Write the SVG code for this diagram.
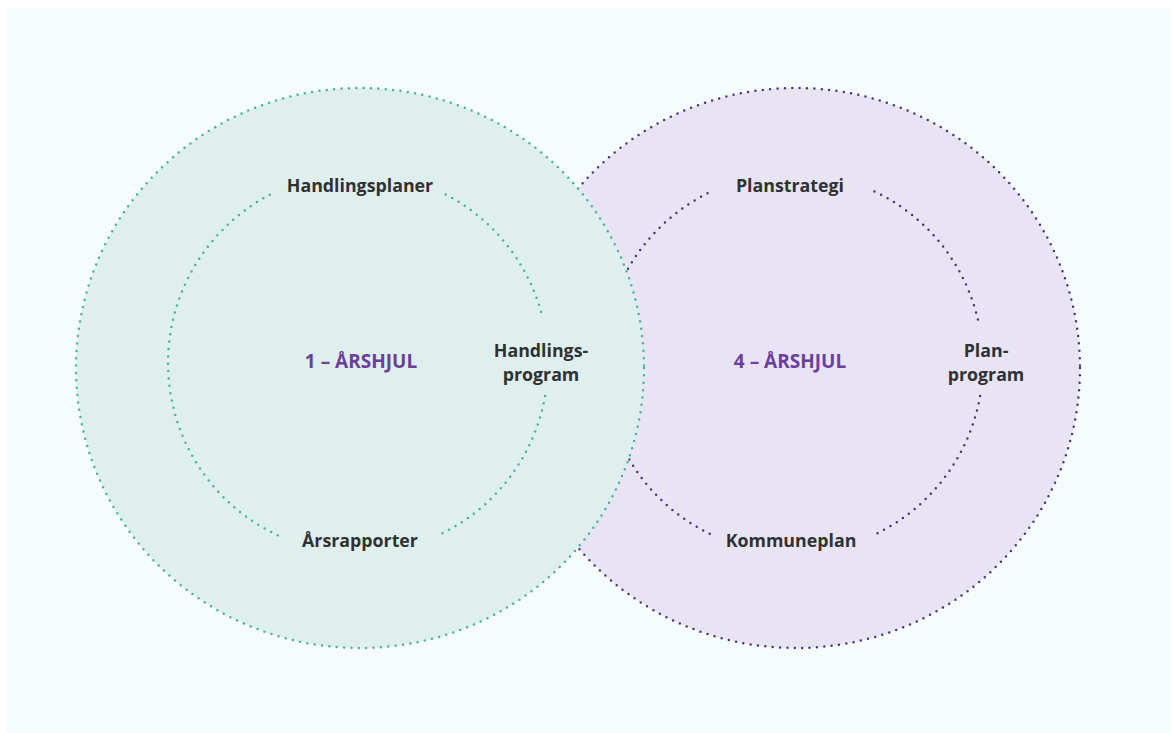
<svg xmlns="http://www.w3.org/2000/svg" width="1171" height="733" viewBox="0 0 1171 733">
<style>
.dot{fill:none;stroke-linecap:round;stroke-width:2.5;stroke-dasharray:0 7.4}
.teal{stroke:#45b39f}
.purp{stroke:#47387a}
.lbl{font-family:"Open Sans","Liberation Sans",sans-serif;font-weight:700;font-size:17.8px;fill:#2f3233;text-anchor:middle}
.ttl{font-family:"Open Sans","Liberation Sans",sans-serif;font-weight:700;font-size:19px;fill:#6b3f9c;text-anchor:middle}
</style>
<rect x="0" y="0" width="1171" height="733" fill="#ffffff"/>
<rect x="6" y="8" width="1165" height="725" fill="#f6fbfc"/>
<g id="wheel-4">
<ellipse cx="796" cy="368" rx="284" ry="280" fill="#e9e4f4"/>
<ellipse class="dot purp" cx="796" cy="368" rx="284" ry="280"/>
<path class="dot purp" d="M874.5,191.4 A190,190 0 0 1 978.8,323.5 M980.1,396.0 A190,190 0 0 1 876.3,533.8 M709.7,533.8 A190,190 0 0 1 707.9,193.1"/>
</g>
<g id="wheel-1">
<ellipse cx="360" cy="368" rx="284" ry="280" fill="#dfefee"/>
<ellipse class="dot teal" cx="360" cy="368" rx="284" ry="280"/>
<path class="dot teal" d="M445.7,194.5 A190,190 0 0 1 542.4,317.0 M545.1,396.0 A190,190 0 0 1 441.3,533.8 M277.7,535.2 A190,190 0 0 1 273.8,192.7"/>
</g>
<g id="connectors"></g>
<g id="title-1"><text class="ttl" x="361" y="368">1 – ÅRSHJUL</text></g>
<g id="handlingsplaner"><text class="lbl" x="360" y="192">Handlingsplaner</text></g>
<g id="handlingsprogram"><text class="lbl" x="541" y="357">Handlings-</text><text class="lbl" x="541" y="381">program</text></g>
<g id="arsrapporter"><text class="lbl" x="360" y="547">Årsrapporter</text></g>
<g id="title-4"><text class="ttl" x="790" y="368">4 – ÅRSHJUL</text></g>
<g id="planstrategi"><text class="lbl" x="790" y="192">Planstrategi</text></g>
<g id="planprogram"><text class="lbl" x="986" y="357">Plan-</text><text class="lbl" x="986" y="381">program</text></g>
<g id="kommuneplan"><text class="lbl" x="791" y="547">Kommuneplan</text></g>
</svg>
